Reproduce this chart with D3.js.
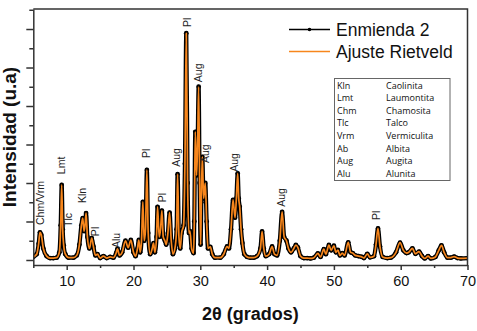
<!DOCTYPE html>
<html>
<head>
<meta charset="utf-8">
<script src="https://cdn.jsdelivr.net/npm/d3@7"></script>
<style>
  body { margin: 0; background: #fff; }
  svg { display: block; font-family: Arial, "Liberation Sans", sans-serif; }
</style>
</head>
<body>
<svg id="chart" width="477" height="331"></svg>
<script>
// diffractogram (2theta in degrees, intensity in tick units)
var twoTheta = [5.0, 5.5, 5.8, 6.0, 6.2, 6.5, 7.0, 7.5, 8.0, 8.5, 8.9, 9.1, 9.25, 9.4, 9.55, 9.8,
  10.3, 11.0, 11.5, 11.9, 12.2, 12.4, 12.6, 12.75, 12.9, 13.1, 13.4, 13.75, 14.0, 14.3, 14.6,
  15.0, 15.5, 16.0, 16.5, 17.0, 17.4, 17.6, 17.9, 18.3, 18.8, 19.2, 19.6, 20.0, 20.3, 20.6,
  20.8, 21.0, 21.2, 21.4, 21.6, 21.8, 22.0, 22.2, 22.5, 22.8, 23.0, 23.2, 23.45, 23.6, 23.85,
  24.05, 24.25, 24.45, 24.7, 24.9, 25.15, 25.4, 25.65, 25.9, 26.2, 26.45, 26.6, 26.8, 27.0,
  27.2, 27.5, 27.7, 27.9, 28.1, 28.3, 28.45, 28.7, 29.0, 29.1, 29.25, 29.45, 29.6, 29.75, 29.9,
  30.05, 30.15, 30.3, 30.5, 30.75, 30.95, 31.15, 31.5, 31.8, 32.2, 33.0, 33.5, 34.0, 34.3,
  34.6, 34.9, 35.2, 35.4, 35.6, 35.75, 35.9, 36.1, 36.3, 36.6, 37.0, 37.5, 38.0, 38.5, 39.0,
  39.25, 39.5, 39.8, 40.3, 40.75, 41.1, 41.5, 41.9, 42.25, 42.55, 42.9, 43.2, 43.6, 44.0,
  44.3, 44.6, 45.0, 45.5, 46.0, 46.5, 47.0, 47.6, 48.0, 48.5, 48.8, 49.25, 49.6, 50.0, 50.3,
  50.6, 50.9, 51.25, 51.6, 52.15, 52.5, 52.8, 53.2, 53.7, 54.2, 54.5, 55.0, 55.4, 56.0, 56.3,
  56.6, 56.9, 57.3, 58.0, 58.5, 59.3, 59.9, 60.4, 60.9, 61.2, 61.75, 62.2, 62.75, 63.2, 63.6,
  64.1, 64.5, 65.2, 65.7, 66.1, 66.5, 67.0, 67.5, 68.0, 68.5, 69.0, 70.0];
var intensity = [0.08, 0.15, 0.42, 0.72, 0.65, 0.3, 0.1, 0.05, 0.05, 0.06, 0.2, 0.9, 1.95, 0.8, 0.38, 0.15,
  0.06, 0.06, 0.12, 0.4, 0.9, 1.09, 0.75, 0.9, 1.22, 0.6, 0.3, 0.57, 0.35, 0.12, 0.15,
  0.05, 0.1, 0.05, 0.08, 0.06, 0.18, 0.29, 0.12, 0.2, 0.5, 0.32, 0.52, 0.2, 0.1, 0.3,
  0.52, 0.2, 0.5, 1.51, 0.5, 0.8, 2.34, 0.7, 0.15, 0.3, 0.44, 0.2, 0.6, 1.38, 0.6,
  0.8, 1.28, 0.6, 0.5, 0.4, 0.7, 1.23, 0.5, 0.15, 0.3, 0.8, 2.23, 0.6, 0.3,
  0.7, 0.9, 2.5, 5.89, 2.0, 0.7, 0.75, 0.3, 0.18, 1.0, 3.33, 2.2, 3.0, 4.5, 2.0,
  0.4, 1.5, 2.68, 1.6, 2.0, 1.0, 0.3, 0.34, 0.15, 0.06, 0.06, 0.15, 0.35, 0.3,
  0.8, 1.56, 1.1, 1.6, 2.25, 1.6, 1.38, 0.8, 0.44, 0.15, 0.08, 0.06, 0.06, 0.1, 0.3,
  0.74, 0.3, 0.1, 0.15, 0.35, 0.15, 0.12, 0.5, 1.25, 0.6, 0.5, 0.3, 0.2, 0.3,
  0.39, 0.33, 0.1, 0.05, 0.05, 0.04, 0.06, 0.17, 0.08, 0.28, 0.15, 0.39, 0.25, 0.37, 0.2,
  0.26, 0.12, 0.18, 0.12, 0.46, 0.2, 0.18, 0.12, 0.1, 0.08, 0.05, 0.16, 0.07, 0.1, 0.4,
  0.82, 0.35, 0.08, 0.05, 0.06, 0.2, 0.45, 0.25, 0.18, 0.2, 0.3, 0.16, 0.22, 0.1, 0.04,
  0.1, 0.04, 0.08, 0.25, 0.38, 0.2, 0.06, 0.06, 0.09, 0.05, 0.04, 0.05];
// Rietveld fit follows the measured pattern within the picture's resolution
var fitted = intensity.slice();

var seriesNames = ["Enmienda 2", "Ajuste Rietveld"];

// peak annotations: name, 2theta, level where the rotated label starts
var peakNames = ["Chm/Vrm", "Lmt", "Tlc", "Kln", "Pl", "Alu", "Pl", "Pl", "Aug", "Pl", "Aug", "Aug", "Aug", "Aug", "Pl"];
var peakTheta = [6.1, 9.25, 10.3, 12.4, 14.25, 17.5, 22.0, 24.4, 26.5, 28.1, 29.7, 30.85, 35.1, 42.2, 56.4];
var peakLevel = [0.91, 2.23, 0.86, 1.48, 0.62, 0.31, 2.65, 1.5, 2.42, 6.05, 4.62, 2.52, 2.29, 1.38, 1.04];

// phase key table
var phaseCodes = ["Kln", "Lmt", "Chm", "Tlc", "Vrm", "Ab", "Aug", "Alu"];
var phaseNames = ["Caolinita", "Laumontita", "Chamosita", "Talco", "Vermiculita", "Albita", "Augita", "Alunita"];

var xTicks = [10, 20, 30, 40, 50, 60, 70];
var xMinor = [5, 15, 25, 35, 45, 55, 65];
var yTicks = [0, 1, 2, 3, 4, 5, 6];
var yMinor = [0.5, 1.5, 2.5, 3.5, 4.5, 5.5, 6.5];

var svg = d3.select("#chart");
var axisColor = "#333";
var orange = "#f7861c";

var x = d3.scaleLinear().domain([5, 70]).range([33.3, 467.5]);
var y = d3.scaleLinear().domain([-0.13, 6.52]).range([265, 9]);

var pts = twoTheta.map(function(t, i) { return { t: t, v: intensity[i], f: fitted[i] }; });

svg.append("clipPath").attr("id", "plotClip")
  .append("rect").attr("x", x(5)).attr("y", y(6.52)).attr("width", x(70) - x(5)).attr("height", y(-0.13) - y(6.52));

var plot = svg.append("g").attr("clip-path", "url(#plotClip)");

var lineObs = d3.line().curve(d3.curveMonotoneX)
  .x(function(d) { return x(d.t); })
  .y(function(d) { return y(d.v); });
var lineFit = d3.line().curve(d3.curveMonotoneX)
  .x(function(d) { return x(d.t); })
  .y(function(d) { return y(d.f); });

// measured pattern: thick black trace with point markers
plot.append("path").datum(pts)
  .attr("d", lineObs)
  .attr("fill", "none")
  .attr("stroke", "#000")
  .attr("stroke-width", 4.2)
  .attr("stroke-linejoin", "round");

plot.selectAll("circle.obs").data(pts).enter()
  .append("circle").attr("class", "obs")
  .attr("cx", function(d) { return x(d.t); })
  .attr("cy", function(d) { return y(d.v); })
  .attr("r", 2.4)
  .attr("fill", "#000");

plot.append("path").datum(pts)
  .attr("d", lineFit)
  .attr("fill", "none")
  .attr("stroke", orange)
  .attr("stroke-width", 1.7)
  .attr("stroke-linejoin", "round");

// axes
var xAxis = svg.append("g").attr("transform", "translate(0," + y(-0.13) + ")")
  .call(d3.axisBottom(x).tickValues(xTicks).tickSize(5).tickSizeOuter(0).tickPadding(6));
svg.append("g").attr("transform", "translate(0," + y(-0.13) + ")")
  .call(d3.axisBottom(x).tickValues(xMinor).tickSize(3).tickSizeOuter(0).tickFormat(""))
  .select(".domain").remove();

var yAxis = svg.append("g").attr("transform", "translate(" + x(5) + ",0)")
  .call(d3.axisLeft(y).tickValues(yTicks).tickSize(7).tickSizeOuter(0).tickFormat(""));
svg.append("g").attr("transform", "translate(" + x(5) + ",0)")
  .call(d3.axisLeft(y).tickValues(yMinor).tickSize(4).tickSizeOuter(0).tickFormat(""))
  .select(".domain").remove();

svg.selectAll(".domain, .tick line").attr("stroke", axisColor).attr("stroke-width", 1.5);
xAxis.selectAll(".tick text").attr("font-size", 14.5).attr("fill", "#111")
  .attr("font-family", "Arial, 'Liberation Sans', sans-serif");

// top and right frame
svg.append("path")
  .attr("d", "M" + x(5) + "," + y(6.52) + "H" + x(70) + "V" + y(-0.13))
  .attr("fill", "none").attr("stroke", axisColor).attr("stroke-width", 1.5);

// axis titles
svg.append("text")
  .attr("x", (x(5) + x(70)) / 2).attr("y", 320)
  .attr("text-anchor", "middle")
  .attr("font-size", 18).attr("font-weight", "bold").attr("fill", "#111")
  .text("2\u03b8 (grados)");

svg.append("text")
  .attr("transform", "translate(16," + 137 + ") rotate(-90)")
  .attr("text-anchor", "middle")
  .attr("font-size", 19).attr("font-weight", "bold").attr("fill", "#111")
  .text("Intensidad (u.a)");

// peak labels, rotated
svg.selectAll("text.peak").data(peakNames).enter()
  .append("text").attr("class", "peak")
  .attr("transform", function(d, i) {
    return "translate(" + (x(peakTheta[i]) + 3.5) + "," + y(peakLevel[i]) + ") rotate(-90)";
  })
  .attr("font-size", 10.5).attr("fill", "#222")
  .text(function(d) { return d; });

// legend
var legend = svg.append("g");
var legendY = [29.5, 51.5];
legend.selectAll("line").data(seriesNames).enter()
  .append("line")
  .attr("x1", 289).attr("x2", 330)
  .attr("y1", function(d, i) { return legendY[i]; })
  .attr("y2", function(d, i) { return legendY[i]; })
  .attr("stroke", function(d, i) { return i == 0 ? "#000" : orange; })
  .attr("stroke-width", function(d, i) { return i == 0 ? 1.6 : 1.3; });
legend.append("circle").attr("cx", 309.5).attr("cy", legendY[0]).attr("r", 1.8).attr("fill", "#000");
legend.selectAll("text").data(seriesNames).enter()
  .append("text")
  .attr("x", 336)
  .attr("y", function(d, i) { return legendY[i] + 6; })
  .attr("font-size", 17.5).attr("fill", "#111")
  .text(function(d) { return d; });

// phase key table
var table = svg.append("g");
table.append("rect")
  .attr("x", 334.5).attr("y", 78.5).attr("width", 115.5).attr("height", 102)
  .attr("fill", "#fff").attr("stroke", "#666").attr("stroke-width", 1);
table.selectAll("text.code").data(phaseCodes).enter()
  .append("text").attr("class", "code")
  .attr("x", 337).attr("y", function(d, i) { return 88.5 + i * 12.65; })
  .attr("font-family", "'Open Sans', 'Noto Sans', sans-serif")
  .attr("font-size", 9).attr("fill", "#111")
  .text(function(d) { return d; });
table.selectAll("text.name").data(phaseNames).enter()
  .append("text").attr("class", "name")
  .attr("x", 386).attr("y", function(d, i) { return 88.5 + i * 12.65; })
  .attr("font-family", "'Open Sans', 'Noto Sans', sans-serif")
  .attr("font-size", 9).attr("fill", "#111")
  .text(function(d) { return d; });
</script>
</body>
</html>
